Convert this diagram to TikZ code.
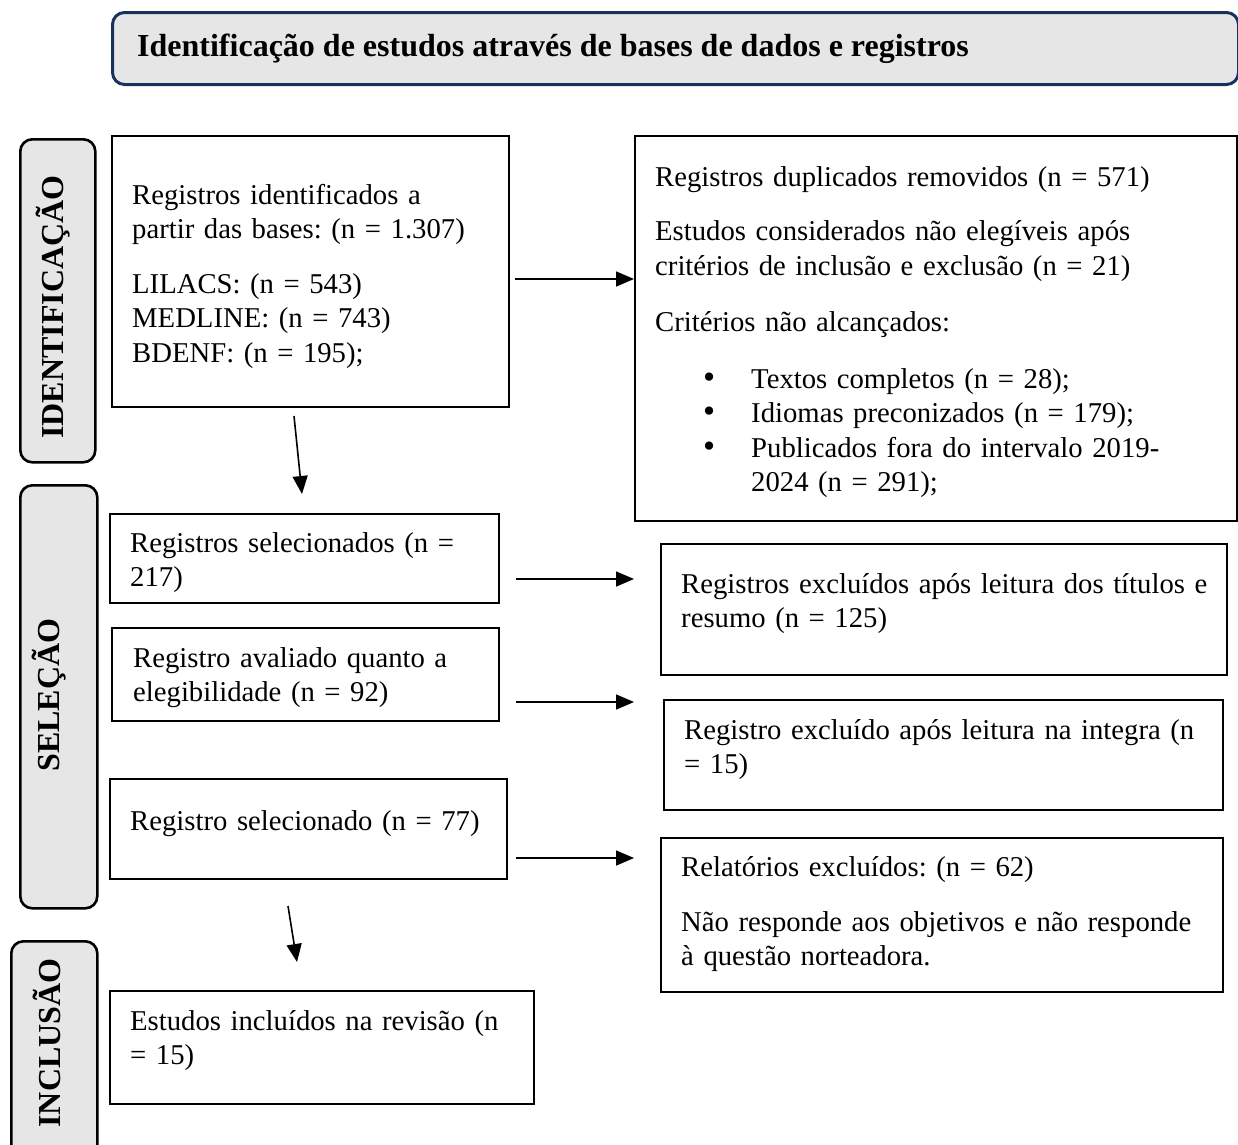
\documentclass[tikz,border=0pt]{standalone}
\usepackage{fontspec}
\setmainfont{Liberation Serif}
\usetikzlibrary{arrows.meta}
\definecolor{hdrblue}{RGB}{24,50,94}
\definecolor{panelgray}{RGB}{231,230,230}
\newcommand{\mybullet}{\makebox[96pt][l]{\hspace*{48pt}\scalebox{1.2}{\textbullet}}}
\frenchspacing
\begin{document}
\begin{tikzpicture}[x=1pt,y=-1pt,
  box/.style={draw=black, line width=2.4pt, anchor=north west, inner sep=0pt},
  txt/.style={font=\fontsize{28.7}{34.5}\selectfont\frenchspacing, align=left, anchor=base west, inner sep=0pt, text width=#1},
  txt/.default=540pt,
  side/.style={draw=black, line width=2.6pt, fill=panelgray, rounded corners=12pt, anchor=north west, inner sep=0pt},
  sidetxt/.style={font=\fontsize{32}{34}\selectfont\bfseries, rotate=90, inner sep=0pt},
  arr/.style={line width=1.6pt, -{Triangle[length=18pt,width=15pt]}}
]
\useasboundingbox (0,0) rectangle (1238,1144);

% header
\node[draw=hdrblue, line width=3pt, fill=panelgray, rounded corners=12pt, anchor=north west,
      minimum width=1126pt, minimum height=72pt, inner sep=0pt] (hdr) at (111,11) {};
\node[font=\fontsize{32}{34}\selectfont\bfseries, anchor=base west, inner sep=0pt] (hdrtxt) at (137,56)
  {Identificação de estudos através de bases de dados e registros};

% side labels
\node[side, minimum width=75pt, minimum height=323pt] (s1) at (19,138) {};
\node[sidetxt] (s1t) at (53,307) {IDENTIFICAÇÃO};
\node[side, minimum width=77pt, minimum height=423pt] (s2) at (19,484) {};
\node[sidetxt] (s2t) at (49,695) {SELEÇÃO};
\node[side, minimum width=86pt, minimum height=230pt] (s3) at (10,940) {};
\node[sidetxt] (s3t) at (47,1043) {INCLUSÃO};

% boxes
\node[box, minimum width=397pt, minimum height=271pt] (A) at (111,135) {};
\node[box, minimum width=602pt, minimum height=385pt] (B) at (634,135) {};
\node[box, minimum width=389pt, minimum height=89pt] (C) at (109,513) {};
\node[box, minimum width=566pt, minimum height=131pt] (D) at (660,543) {};
\node[box, minimum width=387pt, minimum height=93pt] (E) at (111,627) {};
\node[box, minimum width=559pt, minimum height=110pt] (F) at (663,699) {};
\node[box, minimum width=397pt, minimum height=100pt] (G) at (109,778) {};
\node[box, minimum width=562pt, minimum height=154pt] (H) at (660,837) {};
\node[box, minimum width=424pt, minimum height=113pt] (I) at (109,990) {};

% texts
\node[txt=370pt] (At) at (132,204) {Registros identificados a\\
  partir das bases: (n = 1.307)\\[20pt]
  LILACS: (n = 543)\\
  MEDLINE: (n = 743)\\
  BDENF: (n = 195);};
\node[txt=575pt] (Bt) at (655,186) {Registros duplicados removidos (n = 571)\\[20pt]
  Estudos considerados não elegíveis após\\
  critérios de inclusão e exclusão (n = 21)\\[21.5pt]
  Critérios não alcançados:\\[22.5pt]
  \mybullet Textos completos (n = 28);\\
  \mybullet Idiomas preconizados (n = 179);\\
  \mybullet Publicados fora do intervalo 2019-\\
  \hspace*{96pt}2024 (n = 291);};
\node[txt=370pt] (Ct) at (130,552) {Registros selecionados (n =\\ 217)};
\node[txt=545pt] (Dt) at (681,593) {Registros excluídos após leitura dos títulos e\\ resumo (n = 125)};
\node[txt=370pt] (Et) at (133,667) {Registro avaliado quanto a\\ elegibilidade (n = 92)};
\node[txt=535pt] (Ft) at (684,739) {Registro excluído após leitura na integra (n\\ = 15)};
\node[txt=375pt] (Gt) at (130,830) {Registro selecionado (n = 77)};
\node[txt=540pt] (Ht) at (681,876) {Relatórios excluídos: (n = 62)\\[20.5pt]
  Não responde aos objetivos e não responde\\ à questão norteadora.};
\node[txt=400pt] (It) at (130,1030) {Estudos incluídos na revisão (n\\ = 15)};

% arrows
\coordinate (ab) at (515,279);
\draw[arr] (ab) -- (B.west |- ab);
\coordinate (d1s) at (294,416);
\coordinate (d1e) at (302,494);
\draw[arr] (d1s) -- (d1e);
\coordinate (cds) at (516,579);
\coordinate (cde) at (634,579);
\draw[arr] (cds) -- (cde);
\coordinate (efs) at (516,702);
\coordinate (efe) at (634,702);
\draw[arr] (efs) -- (efe);
\coordinate (ghs) at (516,858);
\coordinate (ghe) at (634,858);
\draw[arr] (ghs) -- (ghe);
\coordinate (d2s) at (288,906);
\coordinate (d2e) at (297,962);
\draw[arr] (d2s) -- (d2e);
\end{tikzpicture}
\end{document}
